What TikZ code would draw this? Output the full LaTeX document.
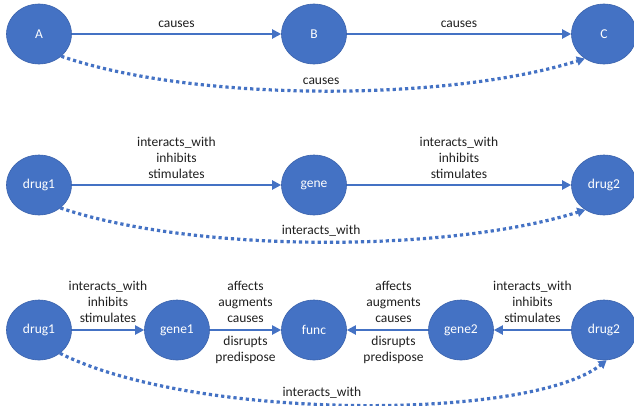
\documentclass[tikz,border=0pt]{standalone}
\usepackage{fontspec}
\setmainfont{Carlito}
\usetikzlibrary{shapes.geometric,arrows.meta}
\definecolor{ob}{HTML}{4472C4}
\definecolor{obd}{HTML}{3A62AC}
\definecolor{txt}{HTML}{1F1F1F}
\begin{document}
\begin{tikzpicture}[x=1pt,y=-1pt,
  ent/.style={ellipse, fill=ob, draw=obd, line width=0.6pt, minimum width=65pt, minimum height=60pt, inner sep=0pt, text=white, font=\fontsize{13.5}{16}\selectfont},
  rel/.style={draw=ob, line width=2pt, -{Triangle[length=9pt,width=9pt]}},
  dotrel/.style={draw=ob, line width=3.2pt, dash pattern=on 3.2pt off 3pt, -{Triangle[length=8pt,width=9pt]}},
  lab/.style={font=\fontsize{13.5}{16}\selectfont, align=center, text=txt, inner sep=0pt}
]
\useasboundingbox (0,0) rectangle (634,405);
% row 1
\node[ent] (A) at (39,34) {A};
\node[ent] (B) at (314,34) {B};
\node[ent] (C) at (604,34) {C};
\draw[rel] (A) -- node[lab, above=5pt] (l1) {causes} (B);
\draw[rel] (B) -- node[lab, above=5pt] (l2) {causes} (C);
\draw[dotrel] (A.-45) .. controls (194,102) and (447,102) .. node[lab, pos=0.5, above=5pt] (l3) {causes} (C.-128);
% row 2
\node[ent] (d1) at (39,185) {drug1};
\node[ent] (g) at (314,185) {gene};
\node[ent] (d2) at (604,185) {drug2};
\draw[rel] (d1) -- node[lab, above=5.5pt] (l4) {interacts\_with\\inhibits\\stimulates} (g);
\draw[rel] (g) -- node[lab, above=5.5pt] (l5) {interacts\_with\\inhibits\\stimulates} (d2);
\draw[dotrel] (d1.-47) .. controls (194,253) and (447,253) .. node[lab, pos=0.5, above=4.5pt] (l6) {interacts\_with} (d2.-127);
% row 3
\node[ent] (e1) at (39,330) {drug1};
\node[ent] (ge1) at (177,330) {gene1};
\node[ent] (f) at (314,330) {func};
\node[ent] (ge2) at (461,330) {gene2};
\node[ent] (e2) at (604,330) {drug2};
\draw[rel] (e1) -- node[lab, above=6.5pt] (l7) {interacts\_with\\inhibits\\stimulates} (ge1);
\draw[rel] (ge1) -- node[lab, above=6.5pt] (l8) {affects\\augments\\causes} node[lab, below=5pt] (l9) {disrupts\\predispose} (f);
\draw[rel] (ge2) -- node[lab, above=6.5pt, xshift=6pt] (l10) {affects\\augments\\causes} node[lab, below=5pt, xshift=6pt] (l11) {disrupts\\predispose} (f);
\draw[rel] (e2) -- node[lab, above=6.5pt] (l12) {interacts\_with\\inhibits\\stimulates} (ge2);
\draw[dotrel] (e1.-48) .. controls (195,421) and (530,421) .. node[lab, pos=0.45, above=4pt] (l13) {interacts\_with} (e2.-85);
\end{tikzpicture}
\end{document}
